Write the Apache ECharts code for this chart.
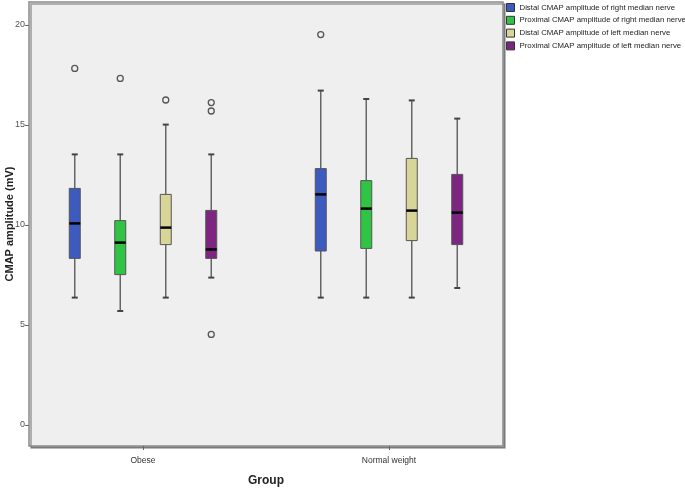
<!DOCTYPE html>
<html>
<head>
<meta charset="utf-8">
<script src="https://cdn.jsdelivr.net/npm/echarts@6/dist/echarts.min.js"></script>
<style>
html,body{margin:0;padding:0;background:#fff;}
#chart{width:685px;height:491px;}
</style>
</head>
<body>
<div id="chart"></div>
<script>
// ---- data ----
const categories = ['Obese', 'Normal weight'];
const seriesNames = [
  'Distal CMAP amplitude of right median nerve',
  'Proximal CMAP amplitude of right median nerve',
  'Distal CMAP amplitude of left median nerve',
  'Proximal CMAP amplitude of left median nerve'
];
// [lower whisker, Q1, median, Q3, upper whisker] per category
const distalRight   = [[6.37, 8.33, 10.08, 11.83, 13.53], [6.37, 8.70, 11.53, 12.82, 16.72]];
const proximalRight = [[5.70, 7.52, 9.12, 10.22, 13.53], [6.37, 8.83, 10.82, 12.22, 16.30]];
const distalLeft    = [[6.37, 9.02, 9.87, 11.53, 15.02], [6.37, 9.22, 10.72, 13.33, 16.23]];
const proximalLeft  = [[7.37, 8.33, 8.78, 10.73, 13.53], [6.85, 9.02, 10.62, 12.53, 15.32]];
// outliers per category
const distalRightOut   = [[17.83], [19.52]];
const proximalRightOut = [[17.33], []];
const distalLeftOut    = [[16.25], []];
const proximalLeftOut  = [[16.12, 15.70, 4.53], []];
const yTicks = [0, 5, 10, 15, 20];

const boxData = [distalRight, proximalRight, distalLeft, proximalLeft];
const outData = [distalRightOut, proximalRightOut, distalLeftOut, proximalLeftOut];
const colors = ['#3d5bbf', '#2fc444', '#d9d497', '#7c2682'];

const SPACING = 45.5, BOXW = 11, CAPW = 6;
const offsets = [-1.5, -0.5, 0.5, 1.5].map(k => k * SPACING);
const Y_MIN = -1.05, Y_MAX = 21.15;
const small = "'Liberation Sans', Arial, sans-serif";

const series = [];
boxData.forEach((bd, si) => {
  const off = offsets[si];
  series.push({
    type: 'custom',
    name: seriesNames[si],
    xAxisIndex: 1, yAxisIndex: 1,
    itemStyle: { color: colors[si], borderColor: '#333' },
    encode: { x: 0, y: [1, 2, 3, 4, 5] },
    data: bd.map((v, ci) => [ci].concat(v)),
    renderItem: function (params, api) {
      const ci = api.value(0);
      const lo = api.coord([ci, api.value(1)]);
      const q1 = api.coord([ci, api.value(2)]);
      const md = api.coord([ci, api.value(3)]);
      const q3 = api.coord([ci, api.value(4)]);
      const hi = api.coord([ci, api.value(5)]);
      const x = lo[0] + off;
      const ws = { stroke: '#666', lineWidth: 1.5 };
      return {
        type: 'group',
        children: [
          { type: 'line', shape: { x1: x, y1: hi[1], x2: x, y2: q3[1] }, style: ws },
          { type: 'line', shape: { x1: x, y1: q1[1], x2: x, y2: lo[1] }, style: ws },
          { type: 'line', shape: { x1: x - CAPW / 2, y1: hi[1], x2: x + CAPW / 2, y2: hi[1] }, style: { stroke: '#444', lineWidth: 2 } },
          { type: 'line', shape: { x1: x - CAPW / 2, y1: lo[1], x2: x + CAPW / 2, y2: lo[1] }, style: { stroke: '#444', lineWidth: 2 } },
          { type: 'rect', shape: { x: x - BOXW / 2, y: q3[1], width: BOXW, height: q1[1] - q3[1] },
            style: { fill: colors[si], stroke: '#555', lineWidth: 1 } },
          { type: 'line', shape: { x1: x - BOXW / 2, y1: md[1], x2: x + BOXW / 2, y2: md[1] }, style: { stroke: '#000', lineWidth: 2.5 } }
        ]
      };
    }
  });
});
outData.forEach((od, si) => {
  const pts = [];
  od.forEach((vals, ci) => vals.forEach(v => pts.push([categories[ci], v])));
  series.push({
    type: 'scatter',
    name: 'out' + si,
    xAxisIndex: 1, yAxisIndex: 1,
    symbol: 'circle',
    symbolSize: 6,
    symbolOffset: [offsets[si], 0],
    itemStyle: { color: '#efefef', borderColor: '#555', borderWidth: 1.3, opacity: 1 },
    data: pts,
    silent: true
  });
});

const chart = echarts.init(document.getElementById('chart'), null, { renderer: 'canvas' });
chart.setOption({
  animation: false,
  backgroundColor: '#fff',
  legend: {
    data: seriesNames.map((n, i) => ({ name: n, itemStyle: { color: colors[i], borderColor: '#333', borderWidth: 1 } })),
    orient: 'vertical',
    left: 506, top: 3, padding: 0,
    icon: 'rect',
    itemWidth: 8, itemHeight: 8, itemGap: 3.8,
    textStyle: { fontSize: 7.8, color: '#222', fontFamily: small },
    selectedMode: false
  },
  grid: [
    { left: 29, top: 2, width: 474, height: 444, show: true, backgroundColor: '#efefef',
      borderColor: '#8a8a8a', borderWidth: 1.5, outerBoundsMode: 'none', containLabel: false,
      shadowColor: 'rgba(0,0,0,0.35)', shadowOffsetX: 2, shadowOffsetY: 2, shadowBlur: 0 },
    { left: 20, top: 2, width: 492, height: 444, show: false, outerBoundsMode: 'none', containLabel: false }
  ],
  xAxis: [
    { type: 'category', gridIndex: 0, data: categories, show: false, axisLine: { onZero: false } },
    { type: 'category', gridIndex: 1, data: categories, boundaryGap: true, position: 'bottom',
      axisLine: { show: false, onZero: false },
      axisTick: { show: true, alignWithLabel: true, length: 4, lineStyle: { color: '#666' } },
      axisLabel: { fontSize: 8.5, color: '#333', margin: 10, fontFamily: small },
      name: 'Group', nameLocation: 'middle', nameGap: 29, nameMoveOverlap: false,
      nameTextStyle: { fontSize: 12, fontWeight: 'bold', color: '#222', fontFamily: 'Arial, sans-serif' } }
  ],
  yAxis: [
    { type: 'value', gridIndex: 0, min: Y_MIN, max: Y_MAX,
      axisLine: { show: false, onZero: false },
      axisTick: { show: true, customValues: yTicks, length: 4, lineStyle: { color: '#666' } },
      axisLabel: { customValues: yTicks, fontSize: 9, color: '#555', margin: 4, fontFamily: small },
      splitLine: { show: false },
      name: 'CMAP amplitude (mV)', nameLocation: 'middle', nameGap: 14, nameRotate: 90, nameMoveOverlap: false,
      nameTextStyle: { fontSize: 11, fontWeight: 'bold', color: '#222', fontFamily: 'Arial, sans-serif' } },
    { type: 'value', gridIndex: 1, min: Y_MIN, max: Y_MAX, show: false, splitLine: { show: false } }
  ],
  series: series
});
</script>
</body>
</html>
